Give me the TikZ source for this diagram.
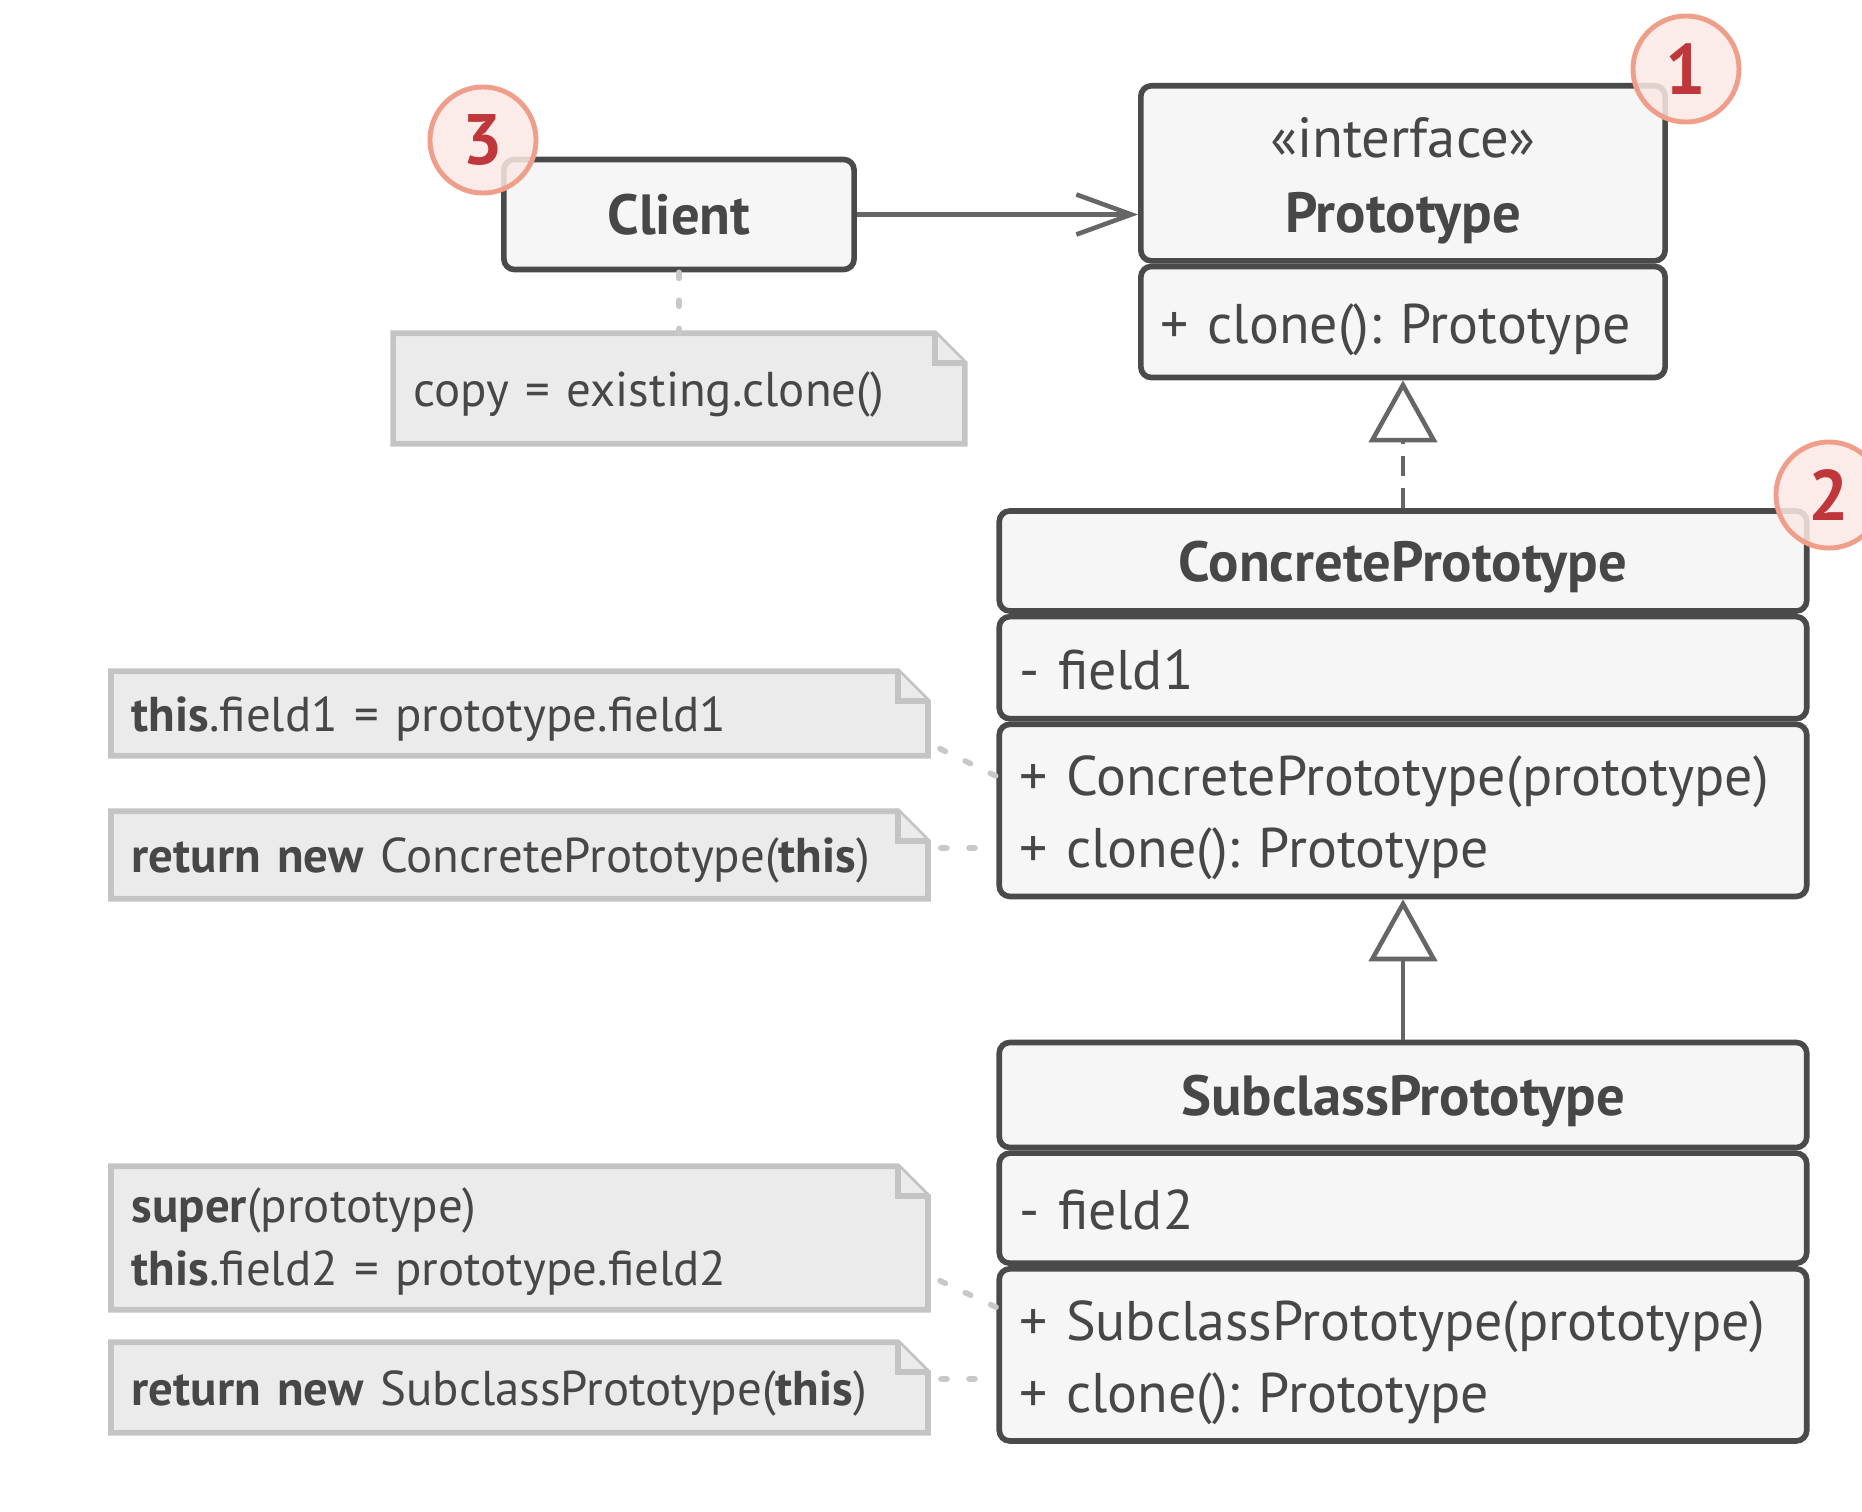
\documentclass[tikz,border=0pt]{standalone}
\usepackage{fontspec}
\setmainfont{PT Sans}
\usepackage{xcolor}
\usepackage{tikz}
\usetikzlibrary{arrows.meta,positioning,backgrounds}
\frenchspacing

\definecolor{boxline}{HTML}{4A4A4A}
\definecolor{boxfill}{HTML}{F6F6F6}
\definecolor{textgray}{HTML}{474747}
\definecolor{arrowgray}{HTML}{666666}
\definecolor{notefill}{HTML}{EBEBEB}
\definecolor{noteedge}{HTML}{C4C4C4}
\definecolor{dotgray}{HTML}{C8C8C8}
\definecolor{badgefill}{HTML}{FBE9E5}
\definecolor{badgeline}{HTML}{EF9E8A}
\definecolor{badgetext}{HTML}{C0373B}

% paper with a folded corner behind a note node
\newcommand{\notebg}[1]{%
  \begin{scope}[on background layer]
    \filldraw[noteframe] (#1.south west) -- (#1.north west) -- ([xshift=-0.3cm]#1.north east)
      -- ([yshift=-0.3cm]#1.north east) -- (#1.south east) -- cycle;
    \draw[noteframe] ([xshift=-0.3cm]#1.north east) |- ([yshift=-0.3cm]#1.north east);
  \end{scope}}

\begin{document}
\begin{tikzpicture}[
    x=0.01cm, y=-0.01cm,
    font=\fontsize{15.9}{20.4}\selectfont,
    text=textgray,
    box/.style={rectangle, draw=boxline, fill=boxfill, line width=1.6pt, rounded corners=3pt, inner sep=0pt},
    head/.style={box, font=\fontsize{16.1}{21.3}\selectfont\bfseries, align=center, text height=13pt, text depth=1.6pt},
    part/.style={box, align=left, inner xsep=0.2cm, text height=12.4pt, text depth=0pt},
    ops/.style={part, text height=15.8pt, text depth=24pt},
    note/.style={rectangle, inner xsep=0.2cm, inner ysep=0pt, align=left, text height=10.2pt, text depth=0pt,
      font=\fontsize{13.9}{17.9}\selectfont},
    noteframe/.style={draw=noteedge, fill=notefill, line width=1.6pt},
    badge/.style={circle, draw=badgeline, fill=badgefill, fill opacity=0.85, text opacity=1, line width=1.4pt,
      minimum size=1.06cm, inner sep=0pt, text=badgetext, font=\fontsize{20.3}{20.3}\selectfont\bfseries},
    assoc/.style={draw=arrowgray, line width=1.3pt, -{Straight Barb[length=0.55cm, width=0.4cm]}},
    realize/.style={draw=arrowgray, line width=1.3pt, dash pattern=on 0.2cm off 0.12cm,
      -{Triangle[open, length=0.62cm, width=0.68cm]}},
    inherit/.style={draw=arrowgray, line width=1.3pt, -{Triangle[open, length=0.62cm, width=0.68cm]}},
    noteline/.style={draw=dotgray, line width=1.6pt, line cap=round, dash pattern=on 0.06cm off 0.22cm}
  ]
  \useasboundingbox (0,0) rectangle (1862,1512);
  \clip (0,0) rectangle (1862,1512);

  % Client
  \node[head, minimum width=3.5cm, minimum height=1.1cm] (client) at (679,214.5) {Client};
  \node[note, minimum width=5.7cm, minimum height=1.09cm, text width=5.3cm] (copynote) at (679,388.5) {copy = existing.clone()};

  % Prototype interface
  \node[head, minimum width=5.24cm, minimum height=1.75cm, text height=33.8pt, text depth=0pt] (proto) at (1403,173.3)
    {{\mdseries «interface»}\\Prototype};
  \node[part, text width=4.84cm, minimum height=1.11cm, below=0pt of proto] (protoops) {+ clone(): Prototype};

  % ConcretePrototype
  \node[head, minimum width=8.07cm, minimum height=1.0cm] (concrete) at (1403,561) {ConcretePrototype};
  \node[part, text width=7.67cm, minimum height=1.02cm, below=0pt of concrete] (concretefields) {- field1};
  \node[ops, text width=7.67cm, minimum height=1.72cm, below=0pt of concretefields] (concreteops)
    {+ ConcretePrototype(prototype)\\+ clone(): Prototype};

  % SubclassPrototype
  \node[head, minimum width=8.07cm, minimum height=1.05cm] (subclass) at (1403,1095) {SubclassPrototype};
  \node[part, text width=7.67cm, minimum height=1.1cm, below=0pt of subclass] (subclassfields) {- field2};
  \node[ops, text width=7.67cm, minimum height=1.72cm, below=0pt of subclassfields] (subclassops)
    {+ SubclassPrototype(prototype)\\+ clone(): Prototype};

  % Notes
  \node[note, minimum width=8.15cm, minimum height=0.83cm, text width=7.75cm] (copyfield) at (519.5,713.5)
    {\textbf{this}.field1 = prototype.field1};
  \node[note, minimum width=8.15cm, minimum height=0.86cm, text width=7.75cm] (copyreturn) at (519.5,855)
    {\textbf{return new} ConcretePrototype(\textbf{this})};
  \node[note, minimum width=8.15cm, minimum height=1.42cm, text width=7.75cm, text height=11.8pt, text depth=20.8pt]
    (subfield) at (519.5,1238) {\textbf{super}(prototype)\\\textbf{this}.field2 = prototype.field2};
  \node[note, minimum width=8.15cm, minimum height=0.89cm, text width=7.75cm] (subreturn) at (519.5,1387.5)
    {\textbf{return new} SubclassPrototype(\textbf{this})};
  \notebg{copynote}
  \notebg{copyfield}
  \notebg{copyreturn}
  \notebg{subfield}
  \notebg{subreturn}

  % Relations
  \draw[assoc] (client) -- (client -| proto.west);
  \draw[realize] (concrete) -- (protoops);
  \draw[inherit] (subclass) -- (concreteops);

  % Note links
  \coordinate (ctorA) at (1000,778);
  \coordinate (cloneA) at (988,848);
  \coordinate (ctorB) at (1000,1309);
  \coordinate (cloneB) at (988,1379);
  \draw[noteline] (client) -- (copynote);
  \draw[noteline] ([shift={(0.12cm,0.07cm)}]copyfield.south east) -- (ctorA);
  \draw[noteline] ([shift={(0.13cm,0.07cm)}]copyreturn.east) -- (cloneA);
  \draw[noteline] ([shift={(0.12cm,0.29cm)}]subfield.south east) -- (ctorB);
  \draw[noteline] ([shift={(0.13cm,0.085cm)}]subreturn.east) -- (cloneB);

  % Step badges
  \node[badge] (stepA) at (1686,69) {1};
  \node[badge] (stepB) at (1829,495) {2};
  \node[badge] (stepC) at (483,140) {3};
\end{tikzpicture}
\end{document}
